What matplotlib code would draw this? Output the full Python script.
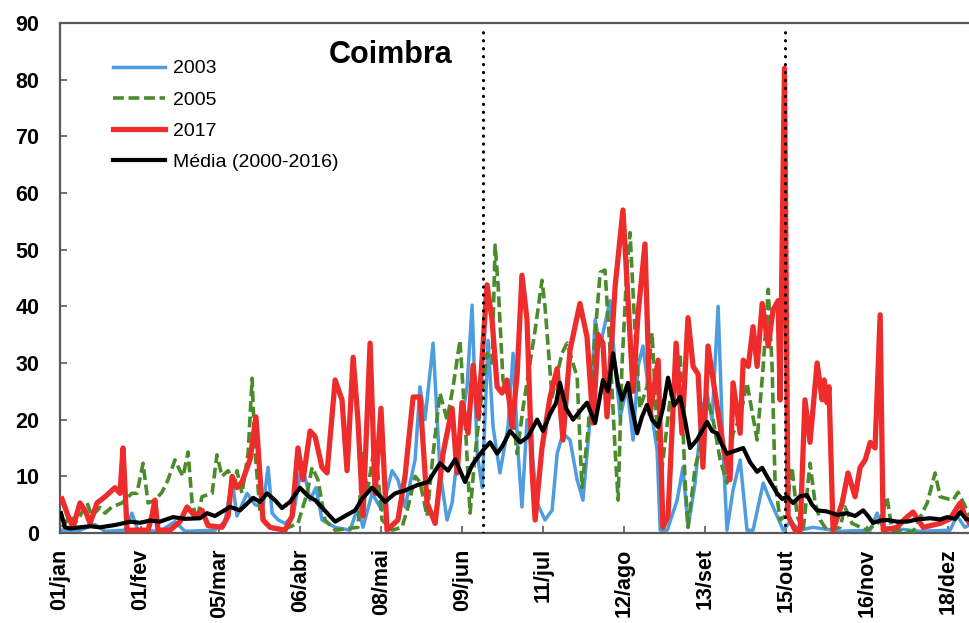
import numpy as np
import matplotlib.pyplot as plt
from matplotlib.lines import Line2D

# =========================
# STYLE
# =========================
plt.rcParams.update({
    "font.family": ["Liberation Sans", "DejaVu Sans"],
    "font.size": 13,
})

# =========================
# DATA (day of year, value)
# =========================
tick_days = [0, 32, 63, 95, 127, 159, 191, 223, 255, 287, 319, 351]
tick_labels = ["01/jan", "01/fev", "05/mar", "06/abr", "08/mai", "09/jun",
               "11/jul", "12/ago", "13/set", "15/out", "16/nov", "18/dez"]

event_days = [167, 286.5]

days_2003 = [0.4, 7.9, 13.8, 17.8, 25.7, 28.4, 30.8, 39.5, 45.4, 49.4, 61.2, 65.2, 68.0, 69.9,
             73.9, 77.0, 80.2, 82.2, 83.8, 86.2, 88.9, 92.1, 95.6, 98.8, 101.1, 103.5, 108.7,
             114.6, 117.7, 119.7, 123.3, 127.2, 131.2, 133.5, 136.3, 140.3, 142.2, 144.2, 147.4,
             150.1, 152.9, 154.9, 158.0, 160.8, 162.8, 164.8, 166.8, 169.1, 171.1, 173.8, 177.0,
             179.0, 181.0, 182.5, 184.5, 186.5, 188.5, 191.6, 194.4, 196.4, 198.7, 201.5, 204.3,
             206.6, 209.4, 211.4, 213.4, 214.5, 217.3, 219.3, 221.3, 224.0, 226.4, 228.4, 230.3,
             233.9, 235.9, 237.1, 239.9, 243.8, 246.1, 248.1, 250.9, 253.7, 255.6, 257.6, 260.0,
             262.0, 263.5, 265.9, 268.7, 271.4, 273.8, 277.8, 280.5, 283.3, 285.7, 288.4, 292.4,
             297.5, 308.2, 320.1, 322.8, 325.2, 339.8, 351.6, 354.4, 357.5, 359.5]
vals_2003 = [0.5, 0.5, 1.5, 0.3, 0.5, 3.5, 0.5, 0.3, 2.0, 0.3, 0.5, 2.0, 9.4, 3.0,
             7.0, 5.0, 4.6, 11.6, 3.5, 2.3, 1.7, 3.0, 12.3, 5.8, 8.0, 2.3, 1.0,
             0.5, 4.6, 1.0, 7.0, 4.0, 11.0, 9.4, 4.6, 13.0, 25.8, 20.0, 33.5,
             11.0, 2.3, 5.3, 17.6, 25.8, 40.2, 14.0, 8.0, 34.0, 18.7, 10.6, 18.7,
             31.7, 14.0, 4.6, 20.0, 14.0, 5.3, 2.3, 4.0, 14.0, 17.6, 16.4, 9.4,
             5.8, 20.0, 37.6, 33.0, 35.3, 41.0, 29.4, 20.5, 25.8, 16.4, 29.4, 33.0,
             20.5, 14.6, 0.5, 0.5, 5.8, 11.6, 1.0, 8.8, 22.0, 24.7, 20.0, 40.0,
             14.0, 0.5, 7.6, 12.9, 0.5, 0.5, 8.8, 5.8, 3.0, 0.5, 2.0, 0.5,
             1.0, 0.3, 0.5, 3.5, 1.0, 0.3, 0.5, 3.0, 1.0, 1.5]

days_2005 = [0.8, 4.0, 5.9, 7.9, 10.7, 12.6, 15.8, 17.8, 20.5, 24.5, 28.4, 30.4, 32.8, 34.8,
             37.5, 40.3, 42.7, 45.4, 47.4, 48.6, 50.6, 52.2, 54.1, 56.1, 60.1, 62.0, 64.0,
             66.4, 69.1, 69.9, 71.9, 74.3, 75.9, 77.0, 79.0, 81.8, 87.7, 94.0, 97.6, 99.6,
             101.9, 104.7, 108.7, 117.7, 119.7, 121.3, 124.5, 127.2, 131.2, 135.1, 137.5,
             140.3, 142.2, 145.0, 147.4, 150.1, 152.9, 155.3, 158.0, 160.0, 162.0, 164.0,
             166.0, 168.7, 170.7, 171.9, 173.1, 175.0, 178.6, 180.6, 182.9, 185.7, 187.7,
             190.4, 191.6, 194.4, 198.3, 200.3, 204.3, 206.2, 208.6, 211.4, 213.4, 215.3,
             217.3, 219.3, 220.5, 222.0, 224.0, 225.2, 227.2, 229.1, 231.9, 233.9, 235.9,
             237.9, 241.0, 245.0, 246.9, 248.1, 250.9, 253.7, 255.6, 258.0, 260.8, 263.5,
             265.9, 268.7, 271.4, 275.4, 277.8, 279.8, 281.3, 282.5, 284.5, 286.5, 289.2,
             291.2, 293.6, 296.3, 298.3, 300.3, 303.0, 308.2, 310.1, 312.9, 318.8, 324.0,
             326.7, 328.7, 337.0, 342.6, 345.7, 347.7, 350.9, 352.8, 354.8, 358.4, 359.5]
vals_2005 = [1.0, 3.0, 1.7, 3.0, 5.3, 3.0, 4.5, 3.5, 4.6, 5.3, 7.0, 7.0, 12.3, 5.3,
             5.8, 7.2, 9.4, 12.9, 11.0, 10.0, 14.3, 5.3, 2.3, 6.4, 7.0, 13.8, 10.0,
             11.0, 8.8, 11.0, 7.0, 14.0, 27.3, 14.6, 4.0, 1.0, 0.5, 1.7, 7.0, 11.6,
             9.4, 2.3, 0.5, 1.0, 14.0, 7.0, 16.0, 2.3, 0.5, 1.0, 4.6,
             10.0, 9.0, 3.0, 14.0, 24.7, 20.0, 25.8, 34.0, 20.0, 3.5, 14.0,
             22.0, 31.7, 30.0, 50.8, 43.5, 27.0, 21.7, 14.0, 22.0, 30.0, 35.8,
             44.6, 40.0, 24.0, 31.7, 33.5, 27.5, 8.0, 18.0, 35.0, 46.0, 46.4,
             32.3, 14.6, 5.8, 29.4, 47.0, 53.0, 35.3, 22.0, 25.8, 35.3, 17.6,
             11.6, 23.5, 31.7, 9.4, 1.0, 11.6, 16.4, 24.0, 20.0, 12.9, 8.8,
             17.6, 20.5, 26.5, 16.4, 29.4, 43.0, 29.4, 8.8, 2.3, 3.0, 11.6,
             3.0, 0.5, 12.3, 5.3, 2.3, 0.5, 1.0, 4.6, 1.7, 0.5, 2.0,
             6.4, 0.5, 0.2, 5.3, 10.6, 6.4, 6.0, 5.8, 7.2, 4.0, 3.0]

days_2017 = [0.8, 3.2, 5.1, 7.9, 9.9, 11.9, 14.6, 17.8, 21.7, 23.7, 24.9, 26.5, 29.6, 34.8,
             36.3, 37.5, 38.7, 43.5, 47.4, 50.2, 53.3, 56.1, 58.5, 64.0, 66.4, 68.0, 69.9,
             71.9, 75.1, 77.4, 79.0, 80.2, 83.0, 88.9, 91.7, 94.0, 96.0, 98.8, 100.8, 103.5,
             105.5, 108.7, 111.4, 113.4, 115.8, 117.7, 119.7, 122.5, 124.5, 126.8, 129.2,
             133.5, 136.3, 139.5, 142.2, 145.0, 148.2, 151.3, 154.9, 156.9, 158.8, 161.2,
             163.2, 165.2, 168.7, 170.7, 172.7, 174.6, 176.6, 178.6, 180.6, 182.5, 184.5,
             186.5, 187.7, 190.4, 193.6, 196.4, 198.7, 201.5, 205.4, 208.2, 210.6, 212.6,
             214.5, 216.1, 219.3, 222.4, 224.4, 226.4, 228.4, 231.1, 233.1, 236.3, 238.2,
             240.2, 243.4, 245.7, 248.1, 250.1, 252.1, 254.0, 256.0, 258.8, 261.6, 264.7,
             265.9, 268.7, 269.9, 271.9, 273.8, 275.4, 277.4, 279.8, 281.7, 283.7, 284.5,
             286.2, 287.6, 290.4, 292.4, 294.3, 296.3, 299.1, 301.1, 301.9, 303.0, 303.8,
             305.4, 309.0, 311.3, 314.1, 316.1, 318.1, 320.1, 322.0, 324.0, 325.2, 330.7,
             333.8, 337.0, 341.0, 347.7, 351.6, 355.6, 358.0, 359.5]
vals_2017 = [6.0, 3.0, 1.0, 5.3, 4.0, 1.7, 5.3, 6.4, 8.0, 7.0, 15.0, 0.5, 0.5, 0.5,
             3.0, 5.8, 0.5, 0.5, 2.0, 4.6, 3.0, 4.0, 1.3, 1.0, 3.0, 10.0, 8.0,
             9.0, 13.0, 20.5, 10.0, 2.3, 1.0, 0.5, 3.0, 15.0, 9.4, 18.0, 17.0, 11.6,
             10.6, 27.0, 23.5, 11.0, 31.0, 20.0, 3.0, 33.5, 7.0, 22.0, 0.5,
             2.3, 10.0, 24.0, 24.0, 5.3, 1.7, 14.0, 22.0, 10.6, 23.0, 17.6,
             29.6, 20.5, 43.8, 37.6, 25.8, 24.7, 27.0, 18.7, 28.0, 45.5, 37.6,
             11.0, 2.3, 15.0, 24.0, 29.0, 16.4, 32.3, 40.5, 34.6, 19.4, 35.0,
             33.5, 20.5, 43.5, 57.0, 41.0, 25.0, 38.8, 51.0, 21.0, 30.5, 1.0,
             3.0, 33.5, 17.6, 38.0, 29.4, 28.0, 11.6, 33.0, 24.7, 16.4, 9.4,
             26.5, 17.6, 30.5, 29.4, 36.4, 29.4, 40.5, 33.0, 39.4, 41.0, 23.5,
             82.0, 3.0, 0.5, 0.5, 23.5, 16.0, 30.0, 23.5, 27.0, 23.0, 25.8,
             0.5, 5.3, 10.6, 6.4, 11.6, 12.9, 16.0, 15.0, 38.5, 0.5, 1.0,
             2.5, 3.7, 1.0, 1.7, 2.5, 5.3, 2.5, 1.7]

days_mean = [0.4, 2.0, 4.0, 7.9, 11.9, 15.8, 21.7, 25.7, 27.7, 31.6, 35.6, 39.5, 44.6, 49.4,
             55.3, 58.1, 61.2, 67.2, 71.1, 76.3, 79.0, 81.8, 84.9, 87.7, 90.9, 94.8, 98.0,
             100.8, 103.5, 108.7, 112.6, 116.6, 119.3, 123.3, 126.4, 128.4, 132.4, 136.3,
             141.4, 145.4, 150.1, 153.3, 156.1, 160.0, 162.8, 167.1, 169.9, 172.7, 175.0,
             177.8, 181.8, 184.9, 188.5, 190.8, 193.6, 196.0, 197.5, 199.9, 202.7, 205.4,
             208.2, 211.4, 214.5, 216.5, 218.5, 220.5, 222.0, 224.4, 226.0, 228.0, 229.9,
             231.9, 233.9, 236.3, 238.2, 240.2, 242.6, 245.0, 246.9, 248.9, 251.7, 255.6,
             257.6, 259.6, 261.6, 263.5, 266.7, 269.9, 272.6, 275.4, 277.4, 279.3, 281.3,
             283.3, 285.3, 287.2, 289.6, 292.4, 295.1, 297.1, 299.1, 303.0, 307.0, 310.9,
             314.1, 317.3, 319.2, 321.2, 324.0, 326.7, 330.7, 334.6, 338.6, 343.7, 347.7,
             350.5, 353.6, 355.6, 358.0, 359.5]
vals_mean = [3.5, 1.0, 0.8, 1.0, 1.2, 1.0, 1.4, 1.8, 2.0, 1.8, 2.2, 2.0, 2.8, 2.5,
             2.6, 3.5, 3.0, 4.6, 4.0, 6.2, 5.5, 7.0, 5.8, 4.4, 5.5, 8.0, 6.5,
             5.8, 4.5, 2.0, 3.0, 4.0, 6.0, 8.0, 6.5, 5.5, 7.0, 7.5,
             8.5, 9.0, 12.3, 11.0, 13.0, 9.0, 12.0, 14.6, 16.0, 14.0, 15.5,
             18.0, 16.0, 17.0, 20.0, 18.0, 21.0, 23.0, 26.5, 22.0, 20.0, 21.5,
             23.0, 19.4, 27.0, 25.0, 31.7, 26.0, 23.5, 26.5, 22.0, 17.6, 20.5,
             22.6, 20.0, 18.7, 22.0, 27.4, 22.5, 24.0, 20.0, 15.0, 16.5, 19.6,
             18.0, 17.6, 15.5, 14.0, 14.5, 15.0, 12.5, 10.8, 11.5, 10.0, 8.5,
             7.0, 6.0, 6.4, 5.3, 6.5, 6.7, 5.0, 4.0, 3.8, 3.2, 3.5,
             3.0, 4.0, 3.0, 1.8, 2.2, 2.3, 2.0, 2.0, 2.4, 2.6, 2.4,
             2.8, 2.5, 3.7, 2.5, 2.3]

# =========================
# COLOURS
# =========================
c_2003 = "#4D9DE0"
c_2005 = "#4A8B2C"
c_2017 = "#EE2C2C"
c_mean = "#000000"
axis_col = "#595959"

lw_2003 = 2.5
lw_2005 = 2.6
lw_2017 = 3.8
lw_mean = 3.0
dash_2005 = (3.0, 1.3)

# =========================
# PLOT
# =========================
fig = plt.figure(figsize=(9.70, 6.23), dpi=100)
ax = fig.add_axes([60 / 970, 90 / 623, 910 / 970, 510 / 623])

ax.plot(days_2003, vals_2003, color=c_2003, lw=lw_2003, solid_joinstyle="round", zorder=2)
ax.plot(days_2005, vals_2005, color=c_2005, lw=lw_2005, dashes=dash_2005, zorder=3)
ax.plot(days_2017, vals_2017, color=c_2017, lw=lw_2017, solid_joinstyle="round", zorder=4)
ax.plot(days_mean, vals_mean, color=c_mean, lw=lw_mean, solid_joinstyle="round", zorder=5)

for d in event_days:
    ax.axvline(d, ymin=0, ymax=0.984, color="black", lw=2.2,
               linestyle=(0, (0.1, 2.5)), dash_capstyle="round", zorder=6)

# =========================
# FORMAT
# =========================
ax.set_xlim(0, 359.5)
ax.set_ylim(0, 90)
ax.set_yticks(np.arange(0, 91, 10))
ax.set_xticks(tick_days)
ax.set_xticklabels(tick_labels, rotation=90, fontsize=15.5, fontweight="bold")
for lab in ax.get_yticklabels():
    lab.set_fontsize(15.5)
    lab.set_fontweight("bold")

ax.tick_params(axis="y", direction="in", length=5, width=1.2, color=axis_col, pad=15)
ax.tick_params(axis="x", direction="in", length=5, width=1.2, color=axis_col, pad=11)

for side in ["left", "bottom", "top"]:
    ax.spines[side].set_color(axis_col)
    ax.spines[side].set_linewidth(1.6)
ax.spines["right"].set_visible(False)

ax.text(0.363, 0.937, "Coimbra", transform=ax.transAxes, ha="center", va="center",
        fontsize=22, fontweight="bold")

# =========================
# LEGEND
# =========================
legend_items = [
    Line2D([0], [0], color=c_2003, lw=lw_2003, label="2003"),
    Line2D([0], [0], color=c_2005, lw=lw_2005, dashes=dash_2005, label="2005"),
    Line2D([0], [0], color=c_2017, lw=lw_2017, label="2017"),
    Line2D([0], [0], color=c_mean, lw=lw_mean, label="Média (2000-2016)"),
]
ax.legend(handles=legend_items, loc="upper left", bbox_to_anchor=(0.058, 0.928),
          frameon=False, fontsize=14, handlelength=2.7, handletextpad=0.4,
          labelspacing=0.7, borderpad=0, borderaxespad=0)

plt.savefig("out.png", dpi=100)
plt.close()
